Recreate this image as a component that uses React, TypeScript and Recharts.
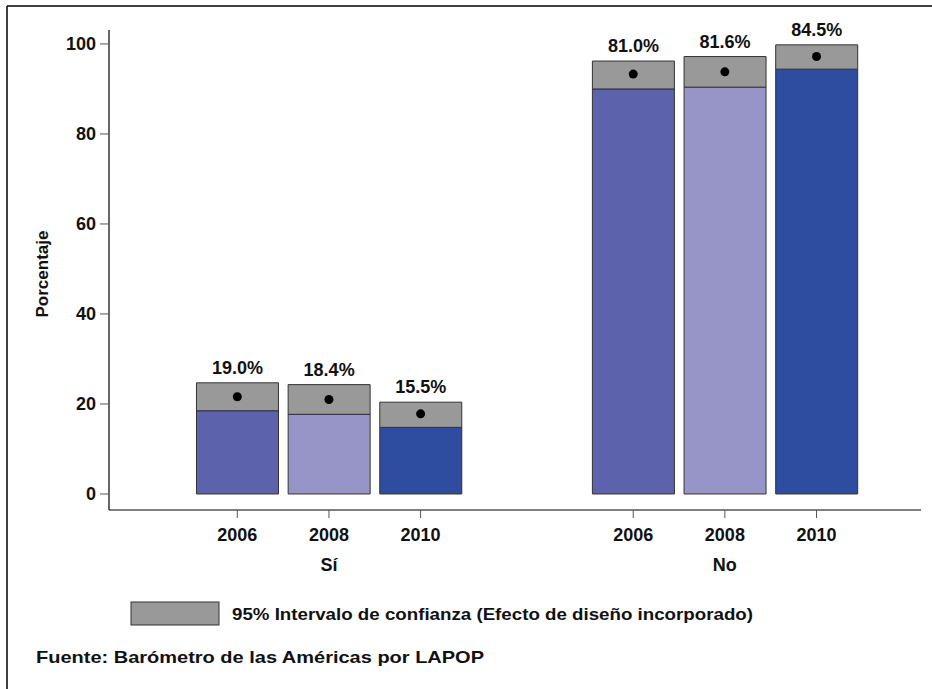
import React from "react";
import { ComposedChart, Bar, Scatter, XAxis, YAxis, Cell, LabelList } from "recharts";

const groups = ["Sí", "No"];
const years = ["2006", "2008", "2010"];
// percentage shown above each bar
const pctLabels = [19.0, 18.4, 15.5, 81.0, 81.6, 84.5];
// confidence interval bounds and point estimate (dot)
const ciLow = [18.5, 17.7, 14.8, 90.0, 90.4, 94.4];
const ciHigh = [24.7, 24.3, 20.4, 96.2, 97.2, 99.8];
const means = [21.6, 21.0, 17.8, 93.3, 93.8, 97.2];
const yTicks = [0, 20, 40, 60, 80, 100];

const YEAR_COLORS = ["#5c62ab", "#9794c8", "#2e4da0"];
const CI_GRAY = "#999999";
const GROUP_GAP = 1.32;
const FONT = "'Liberation Sans', Arial, Helvetica, sans-serif";

const rows = groups.flatMap((group, g) =>
  years.map((year, i) => {
    const k = g * years.length + i;
    return {
      x: g * (years.length + GROUP_GAP) + i,
      group,
      year,
      yi: i,
      low: ciLow[k],
      band: +(ciHigh[k] - ciLow[k]).toFixed(2),
      mean: means[k],
      label: pctLabels[k].toFixed(1) + "%",
    };
  })
);
const xTicks = rows.map((r) => r.x);

const XTick: React.FC<any> = ({ x, y, payload }) => {
  const row = rows.find((r) => Math.abs(r.x - payload.value) < 1e-6);
  if (!row) return null;
  return (
    <g>
      <text x={x} y={y + 21} textAnchor="middle" fontFamily={FONT} fontWeight={700} fontSize={18} fill="#111">
        {row.year}
      </text>
      {row.yi === 1 && (
        <text x={x} y={y + 51} textAnchor="middle" fontFamily={FONT} fontWeight={700} fontSize={18} fill="#111">
          {row.group}
        </text>
      )}
    </g>
  );
};

const TopLabel: React.FC<any> = ({ x, y, width, value }) => (
  <text x={x + width / 2} y={y - 9} textAnchor="middle" fontFamily={FONT} fontWeight={700} fontSize={18} fill="#111">
    {value}
  </text>
);

const Dot: React.FC<any> = ({ cx, cy }) => <circle cx={cx} cy={cy} r={4.5} fill="#000" />;

export default function App() {
  return (
    <div style={{ position: "relative", width: 932, height: 689, background: "#fff" }}>
      <style>{`body{margin:0}`}</style>
      <ComposedChart
        width={932}
        height={689}
        data={rows}
        margin={{ top: 30, right: 11, bottom: 119, left: 49 }}
      >
        <XAxis
          type="number"
          dataKey="x"
          domain={[-1.4, 7.46]}
          allowDataOverflow
          ticks={xTicks}
          interval={0}
          height={60}
          tickSize={8}
          tickLine={{ stroke: "#555" }}
          axisLine={{ stroke: "#555", strokeWidth: 1.5 }}
          tick={<XTick />}
        />
        <YAxis
          type="number"
          domain={[-3.56, 103.1]}
          allowDataOverflow
          ticks={yTicks}
          width={60}
          tickSize={9}
          tickMargin={4}
          tickLine={{ stroke: "#555" }}
          axisLine={{ stroke: "#000", strokeWidth: 1.2 }}
          tick={{ fontFamily: FONT, fontWeight: 700, fontSize: 18, fill: "#111" }}
        />
        <Bar dataKey="low" stackId="ci" barSize={82} stroke="#333" strokeWidth={1} isAnimationActive={false}>
          {rows.map((r, i) => (
            <Cell key={`c-${i}`} fill={YEAR_COLORS[r.yi]} />
          ))}
        </Bar>
        <Bar dataKey="band" stackId="ci" barSize={82} fill={CI_GRAY} stroke="#333" strokeWidth={1} isAnimationActive={false}>
          <LabelList dataKey="label" content={<TopLabel />} />
        </Bar>
        <Scatter dataKey="mean" shape={<Dot />} isAnimationActive={false} />
      </ComposedChart>

      <svg width={932} height={689} style={{ position: "absolute", left: 0, top: 0, pointerEvents: "none" }}>
        {/* frame lines */}
        <line x1={7} y1={6} x2={932} y2={6} stroke="#000" strokeWidth={1.5} />
        <line x1={7} y1={6} x2={7} y2={689} stroke="#000" strokeWidth={1.5} />
        <text
          transform="translate(48,274) rotate(-90)"
          textAnchor="middle"
          fontFamily={FONT}
          fontWeight={700}
          fontSize={17}
          fill="#111"
          textLength={87}
          lengthAdjust="spacingAndGlyphs"
        >
          Porcentaje
        </text>
        <rect x={131} y={602} width={88} height={23} fill={CI_GRAY} stroke="#333" strokeWidth={1} />
        <text x={232} y={620} fontFamily={FONT} fontWeight={700} fontSize={17} fill="#111" textLength={521} lengthAdjust="spacingAndGlyphs">
          95% Intervalo de confianza (Efecto de diseño incorporado)
        </text>
        <text x={36} y={663} fontFamily={FONT} fontWeight={700} fontSize={17} fill="#111" textLength={448} lengthAdjust="spacingAndGlyphs">
          Fuente: Barómetro de las Américas por LAPOP
        </text>
      </svg>
    </div>
  );
}
